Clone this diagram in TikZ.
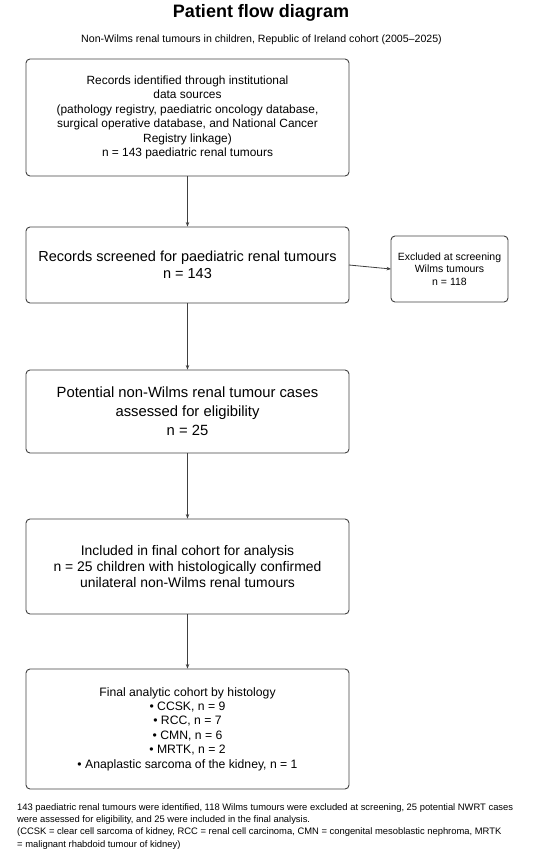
\documentclass[tikz,border=0pt]{standalone}
\usepackage{fontspec}
\setmainfont{Liberation Sans}
\usetikzlibrary{arrows.meta}
\definecolor{edge}{HTML}{404040}
\tikzset{
  box/.style={draw=edge, line width=0.9pt, rounded corners=4pt, inner sep=0pt, align=center, text=black},
  flow/.style={draw=edge, line width=0.8pt, -{Stealth[length=4.5pt,width=3.5pt]}},
}
\begin{document}
\begin{tikzpicture}[x=1pt,y=-1pt]
\useasboundingbox (0,0) rectangle (550,854);
\node[anchor=base, font=\bfseries\fontsize{18}{21}\selectfont] (title) at (261,17.5) {Patient flow diagram};
\node[anchor=base, font=\fontsize{10.6}{12}\selectfont] (sub) at (261.5,42.5) {Non-Wilms renal tumours in children, Republic of Ireland cohort (2005--2025)};

\node[box, minimum width=323pt, minimum height=117pt, font=\fontsize{11.9}{14.4}\selectfont] (b1) at (187.5,117.5)
 {Records identified through institutional\\data sources\\(pathology registry, paediatric oncology database,\\surgical operative database, and National Cancer\\Registry linkage)\\n = 143 paediatric renal tumours};

\node[box, minimum width=323pt, minimum height=76pt, font=\fontsize{14.5}{17}\selectfont] (b2) at (187.5,265)
 {Records screened for paediatric renal tumours\\n = 143};

\node[box, minimum width=117pt, minimum height=66pt, font=\fontsize{10.5}{12.5}\selectfont] (ex) at (449.5,269)
 {Excluded at screening\\Wilms tumours\\n = 118};

\node[box, minimum width=323pt, minimum height=83pt, font=\fontsize{14.8}{19}\selectfont] (b3) at (187.5,411.5)
 {Potential non-Wilms renal tumour cases\\assessed for eligibility\\n = 25};

\node[box, minimum width=323pt, minimum height=95pt, font=\fontsize{13.9}{16}\selectfont] (b4) at (187.5,566.5)
 {Included in final cohort for analysis\\n = 25 children with histologically confirmed\\unilateral non-Wilms renal tumours};

\node[box, minimum width=323pt, minimum height=120pt, font=\fontsize{12.2}{14.4}\selectfont] (b5) at (187.5,729)
 {Final analytic cohort by histology\\• CCSK, n = 9\\• RCC, n = 7\\• CMN, n = 6\\• MRTK, n = 2\\• Anaplastic sarcoma of the kidney, n = 1};

\node[anchor=north west, inner sep=0pt, align=left, font=\fontsize{9.4}{12.4}\selectfont] (foot) at (17,803)
 {143 paediatric renal tumours were identified, 118 Wilms tumours were excluded at screening, 25 potential NWRT cases\\
 were assessed for eligibility, and 25 were included in the final analysis.\\
 (CCSK = clear cell sarcoma of kidney, RCC = renal cell carcinoma, CMN = congenital mesoblastic nephroma, MRTK\\
 = malignant rhabdoid tumour of kidney)};

\draw[flow] (b1) -- (b2);
\draw[flow] (b2) -- (b3);
\draw[flow] (b3) -- (b4);
\draw[flow] (b4) -- (b5);
\coordinate (s) at (349,265);
\coordinate (t) at (391,269);
\draw[flow] (s) -- (t);
\end{tikzpicture}
\end{document}
